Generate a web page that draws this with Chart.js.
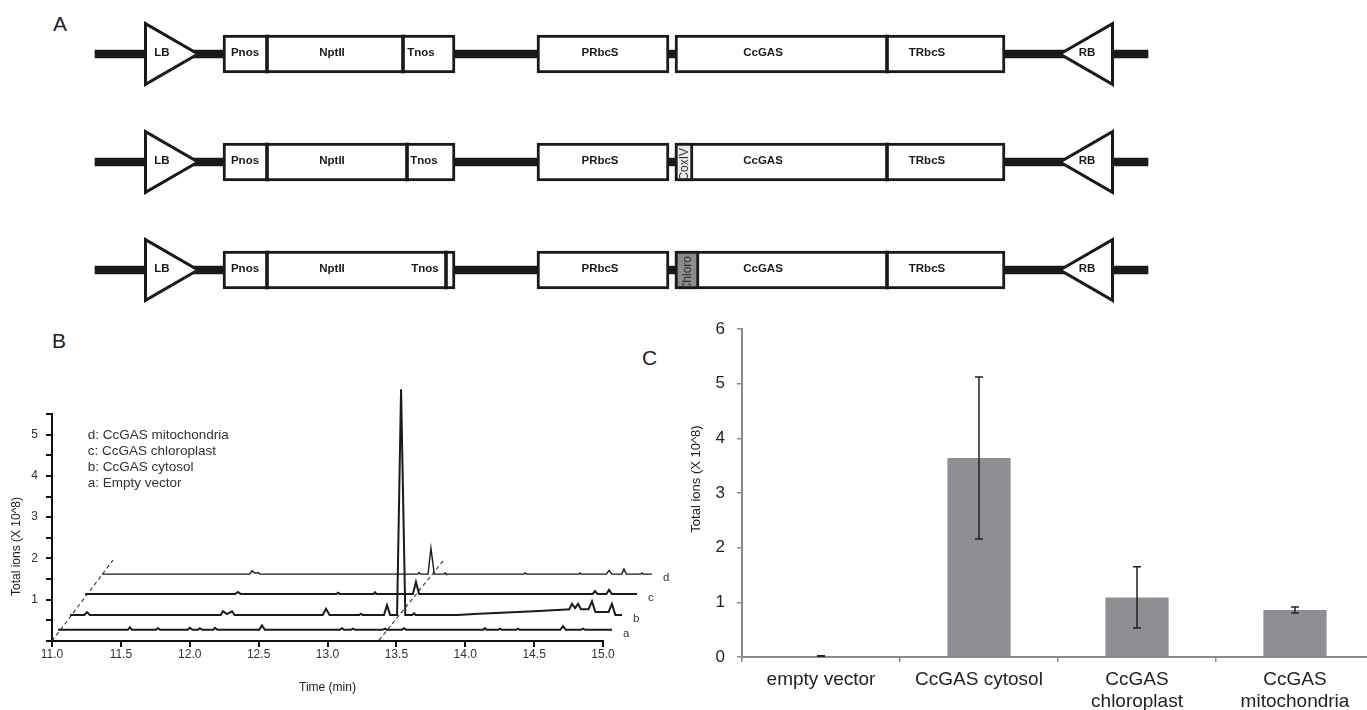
<!DOCTYPE html>
<html lang="en">
<head>
<meta charset="UTF-8">
<title>CcGAS constructs, chromatograms and total ions</title>
<script src="https://cdn.jsdelivr.net/npm/chart.js"></script>
<style>
    html, body { margin: 0; padding: 0; background: #fff; }
    body { width: 1367px; height: 710px; overflow: hidden; position: relative; font-family: "Liberation Sans", Arial, sans-serif; }
    canvas { position: absolute; }
    .panel { position: absolute; font-size: 21px; line-height: 1; color: #222; }
</style>
</head>
<body>
<div class="panel" style="left:53px;top:13px">A</div>
<div class="panel" style="left:52px;top:330px">B</div>
<div class="panel" style="left:642px;top:347px">C</div>

<canvas id="chart-a" width="1367" height="324" style="left:0;top:0"></canvas>
<canvas id="chart-b" width="680" height="340" style="left:0;top:370px"></canvas>
<canvas id="chart-c" width="740" height="410" style="left:640px;top:300px"></canvas>

<script>
// ---- Panel A: T-DNA constructs (map units along the construct) ----
const constructRows = ['cytosol', 'mitochondria', 'chloroplast'];
const backboneSpan = [0, 105.3];
const borderAt = [6.8, 100.0];                 // LB, RB
const cassetteSpan = [12.8, 36.0];             // Pnos - NptII - Tnos
const promoterSpan = [44.2, 57.4];             // PRbcS
const geneSpan = [58.0, 91.0];                 // CcGAS - TRbcS
const dividerAt = [[17.2, 30.8, 79.2], [17.2, 31.2, 79.2], [17.2, 35.1, 79.2]];
const signalSpans = [null, [58.0, 59.8], [58.0, 60.4]];
const signalNames = ['', 'CoxIV', 'Chloro'];
const signalColors = ['#ffffff', '#ececec', '#8c8c8e'];
const partNames = ['LB', 'Pnos', 'NptII', 'Tnos', 'PRbcS', 'CcGAS', 'TRbcS', 'RB'];
const partLabelAt = [
    [6.7, 15.0, 23.7, 32.6, 50.5, 66.8, 83.2, 99.2],
    [6.7, 15.0, 23.7, 32.9, 50.5, 66.8, 83.2, 99.2],
    [6.7, 15.0, 23.7, 33.0, 50.5, 66.8, 83.2, 99.2]
];

// ---- Panel B: chromatograms, [time on axis, total ions x10^8] ----
const traceA = [[11.044,0.27],[11.55,0.27],[11.566,0.33],[11.58,0.27],[11.755,0.27],[11.77,0.31],[11.785,0.27],
    [11.985,0.27],[12.0,0.32],[12.02,0.27],[12.06,0.27],[12.074,0.31],[12.09,0.27],[12.17,0.27],[12.183,0.32],[12.2,0.27],
    [12.505,0.27],[12.524,0.38],[12.545,0.27],[13.09,0.27],[13.105,0.31],[13.12,0.27],[13.17,0.27],[13.185,0.30],[13.2,0.27],
    [13.40,0.27],[13.417,0.30],[13.43,0.27],[13.54,0.27],[13.555,0.31],[13.57,0.27],[14.13,0.27],[14.143,0.31],[14.155,0.27],
    [14.24,0.27],[14.252,0.30],[14.265,0.27],[14.37,0.27],[14.383,0.30],[14.395,0.27],[14.69,0.27],[14.71,0.36],[14.73,0.27],
    [14.84,0.27],[14.855,0.30],[14.87,0.27],[15.065,0.27]];
const traceB = [[11.131,0.63],[11.235,0.63],[11.254,0.70],[11.275,0.63],[12.225,0.63],[12.241,0.72],[12.27,0.65],[12.307,0.72],
    [12.325,0.63],[12.965,0.63],[12.989,0.78],[13.015,0.63],[13.23,0.63],[13.243,0.66],[13.255,0.63],[13.41,0.63],[13.432,0.87],
    [13.455,0.63],[13.505,0.63],[13.534,6.10],[13.565,0.63],[13.615,0.63],[13.628,0.67],[13.64,0.63],[13.94,0.63],[14.1,0.66],
    [14.3,0.69],[14.5,0.72],[14.7,0.76],[14.755,0.77],[14.775,0.90],[14.797,0.80],[14.819,0.90],[14.84,0.77],[14.895,0.77],
    [14.92,0.96],[14.945,0.70],[15.04,0.70],[15.065,0.90],[15.09,0.63],[15.138,0.63]];
const traceC = [[11.24,1.14],[12.33,1.14],[12.35,1.19],[12.37,1.14],[13.065,1.14],[13.076,1.17],[13.09,1.14],[13.335,1.14],
    [13.345,1.18],[13.355,1.14],[13.62,1.14],[13.642,1.43],[13.665,1.14],[14.925,1.14],[14.942,1.21],[14.96,1.14],
    [15.025,1.14],[15.044,1.24],[15.065,1.14],[15.247,1.14]];
const traceD = [[11.363,1.62],[12.435,1.62],[12.452,1.70],[12.475,1.64],[12.495,1.66],[12.51,1.62],[13.655,1.62],[13.664,1.66],
    [13.675,1.62],[13.73,1.62],[13.751,2.25],[13.775,1.62],[13.845,1.62],[13.853,1.65],[13.86,1.62],[14.425,1.62],[14.434,1.65],
    [14.445,1.62],[14.825,1.62],[14.833,1.65],[14.84,1.62],[15.025,1.62],[15.044,1.71],[15.065,1.62],[15.135,1.62],[15.152,1.74],
    [15.17,1.62],[15.275,1.62],[15.283,1.65],[15.29,1.62],[15.356,1.62]];
const traceLetters = ['a', 'b', 'c', 'd'];
const sampleNames = ['d: CcGAS mitochondria', 'c: CcGAS chloroplast', 'b: CcGAS cytosol', 'a: Empty vector'];
const guideLines = [[[11.0, 0.0], [11.443, 1.96]], [[13.374, 0.02], [13.853, 2.0]]];
const timeTicks = [11.0, 15.0, 0.5];     // min, max, step
const ionTicksB = [0, 5.5, 0.5];

// ---- Panel C: total ions (x10^8), mean and error ----
const groups = ['empty vector', 'CcGAS cytosol', ['CcGAS', 'chloroplast'], ['CcGAS', 'mitochondria']];
const meanIons = [0.02, 3.64, 1.09, 0.86];
const errIons = [0.005, 1.48, 0.56, 0.055];
const ionTicksC = [0, 6, 1];

Chart.defaults.font.family = '"Liberation Sans", Arial, sans-serif';
Chart.defaults.color = '#222';

// Draws the part names and the rotated signal peptide names
const constructLabels = {
    id: 'constructLabels',
    afterDatasetsDraw(chart) {
        const { ctx, scales: { x, y } } = chart;
        ctx.save();
        constructRows.forEach((row, i) => {
            const cy = y.getPixelForValue(i);
            ctx.font = 'bold 11.5px "Liberation Sans", Arial, sans-serif';
            ctx.fillStyle = '#1a1a1a';
            ctx.textAlign = 'center';
            ctx.textBaseline = 'middle';
            partNames.forEach((name, k) => ctx.fillText(name, x.getPixelForValue(partLabelAt[i][k]), cy - 1));
            const span = signalSpans[i];
            if (span) {
                const x0 = x.getPixelForValue(span[0]) + 3;
                const x1 = x.getPixelForValue(span[1]) - 3;
                ctx.save();
                ctx.beginPath();
                ctx.rect(x0, cy - 16, x1 - x0, 32);
                ctx.clip();
                ctx.translate((x0 + x1) / 2, cy);
                ctx.rotate(-Math.PI / 2);
                ctx.font = '12px "Liberation Sans", Arial, sans-serif';
                ctx.fillStyle = '#333';
                ctx.textAlign = 'right';
                ctx.fillText(signalNames[i], 14, 1);
                ctx.restore();
            }
        });
        ctx.restore();
    }
};

function floating(span) {
    return constructRows.map(() => span);
}

// Function to create the construct map (panel A)
function createConstructChart() {
    const box = { type: 'bar', backgroundColor: '#fff', borderColor: '#1a1a1a', borderWidth: 3,
                  borderSkipped: false, barThickness: 38, grouped: false, order: 4 };
    const datasets = [
        { type: 'bar', data: floating(backboneSpan), backgroundColor: '#1a1a1a', barThickness: 8, grouped: false, order: 5 },
        { ...box, data: floating(cassetteSpan) },
        { ...box, data: floating(promoterSpan) },
        { ...box, data: floating(geneSpan) },
        { ...box, data: signalSpans, backgroundColor: signalColors, order: 3 }
    ];
    [0, 1, 2].forEach(j => {
        datasets.push({ type: 'bar', data: dividerAt.map(r => [r[j] - 0.15, r[j] + 0.15]),
                        backgroundColor: '#1a1a1a', barThickness: 38, grouped: false, order: 2 });
    });
    [[borderAt[0], 90], [borderAt[1], 270]].forEach(([pos, rot]) => {
        datasets.push({ type: 'line', showLine: false, data: constructRows.map(r => ({ x: pos, y: r })),
                        pointStyle: 'triangle', pointRotation: rot, pointRadius: 35, pointBorderWidth: 3,
                        pointBackgroundColor: '#fff', pointBorderColor: '#1a1a1a', order: 1, clip: false });
    });
    new Chart(document.getElementById('chart-a'), {
        type: 'bar',
        data: { labels: constructRows, datasets: datasets },
        options: {
            indexAxis: 'y', responsive: false, animation: false, events: [],
            layout: { padding: 0, autoPadding: false },
            plugins: { legend: { display: false }, tooltip: { enabled: false } },
            scales: {
                x: { type: 'linear', min: -9.5, max: 127.2, display: false },
                y: { type: 'category', display: false, offset: true }
            }
        },
        plugins: [constructLabels]
    });
}

// Sample list, trace letters and the rotated y title of panel B
const chromLabels = {
    id: 'chromLabels',
    afterDatasetsDraw(chart) {
        const { ctx, chartArea, scales: { x, y } } = chart;
        ctx.save();
        ctx.fillStyle = '#333';
        ctx.textBaseline = 'middle';
        ctx.font = '13.5px "Liberation Sans", Arial, sans-serif';
        ctx.textAlign = 'left';
        sampleNames.forEach((s, i) => ctx.fillText(s, x.getPixelForValue(11.26), y.getPixelForValue(4.99) + i * 16));
        ctx.font = '11.5px "Liberation Sans", Arial, sans-serif';
        [traceA, traceB, traceC, traceD].forEach((t, i) => {
            const last = t[t.length - 1];
            ctx.fillText(traceLetters[i], x.getPixelForValue(last[0]) + 11, y.getPixelForValue(last[1]) + 4);
        });
        ctx.translate(17, (chartArea.top + chartArea.bottom) / 2 + 19);
        ctx.rotate(-Math.PI / 2);
        ctx.textAlign = 'center';
        ctx.font = '12px "Liberation Sans", Arial, sans-serif';
        ctx.fillStyle = '#222';
        ctx.fillText('Total ions (X 10^8)', 0, 0);
        ctx.restore();
    }
};

// Function to create the chromatogram overlay (panel B)
function createChromatogramChart() {
    const toXY = t => t.map(p => ({ x: p[0], y: p[1] }));
    const traces = [traceA, traceB, traceC, traceD].map((t, i) => ({
        label: traceLetters[i], data: toXY(t), showLine: true, borderColor: '#1a1a1a',
        borderWidth: i === 3 ? 1.4 : 2, pointRadius: 0, clip: false
    }));
    const guides = guideLines.map(g => ({
        data: toXY(g), showLine: true, borderColor: '#333', borderWidth: 1.1,
        borderDash: [4, 3], pointRadius: 0, clip: false
    }));
    const axisGrid = { drawOnChartArea: false, tickLength: 6, color: '#111', lineWidth: 2 };
    new Chart(document.getElementById('chart-b'), {
        type: 'scatter',
        data: { datasets: traces.concat(guides) },
        options: {
            responsive: false, animation: false, events: [],
            layout: { padding: { top: 44, right: 77, left: 0, bottom: 0 } },
            plugins: { legend: { display: false }, tooltip: { enabled: false } },
            scales: {
                x: {
                    type: 'linear',
                    // range set here (not via min/max) so the traces can run past 15.0
                    afterDataLimits: s => { s.min = timeTicks[0]; s.max = timeTicks[1]; },
                    afterFit: s => { s.height = 69; },
                    ticks: { stepSize: timeTicks[2], callback: v => v.toFixed(1), maxRotation: 0, padding: 0,
                             color: '#333', font: { size: 12 } },
                    grid: axisGrid,
                    border: { color: '#111', width: 2 },
                    title: { display: true, text: 'Time (min)', color: '#222', font: { size: 12 },
                             padding: { top: 0, bottom: 15 } }
                },
                y: {
                    min: ionTicksB[0], max: ionTicksB[1],
                    afterFit: s => { s.width = 52; },
                    ticks: { stepSize: ionTicksB[2], padding: 8, color: '#333', font: { size: 12 },
                             callback: v => (Number.isInteger(v) && v > 0) ? v : '' },
                    grid: axisGrid,
                    border: { color: '#111', width: 2 }
                }
            }
        },
        plugins: [chromLabels]
    });
}

// Error bars and y title for panel C
const errorBars = {
    id: 'errorBars',
    afterDatasetsDraw(chart) {
        const { ctx, chartArea, scales: { y } } = chart;
        const bars = chart.getDatasetMeta(0).data;
        ctx.save();
        ctx.strokeStyle = '#222';
        ctx.lineWidth = 1.5;
        bars.forEach((bar, i) => {
            const top = y.getPixelForValue(meanIons[i] + errIons[i]);
            const bottom = y.getPixelForValue(meanIons[i] - errIons[i]);
            ctx.beginPath();
            ctx.moveTo(bar.x, top); ctx.lineTo(bar.x, bottom);
            ctx.moveTo(bar.x - 4, top); ctx.lineTo(bar.x + 4, top);
            ctx.moveTo(bar.x - 4, bottom); ctx.lineTo(bar.x + 4, bottom);
            ctx.stroke();
        });
        ctx.translate(chartArea.left - 46, (chartArea.top + chartArea.bottom) / 2 - 14);
        ctx.rotate(-Math.PI / 2);
        ctx.fillStyle = '#222';
        ctx.textAlign = 'center';
        ctx.textBaseline = 'middle';
        ctx.font = '13px "Liberation Sans", Arial, sans-serif';
        ctx.fillText('Total ions (X 10^8)', 0, 0);
        ctx.restore();
    }
};

// Function to create the total ions bar chart (panel C)
function createTotalIonsChart() {
    const axisGrid = { drawOnChartArea: false, tickLength: 5, color: '#8c8c8c', lineWidth: 1.5 };
    new Chart(document.getElementById('chart-c'), {
        type: 'bar',
        data: {
            labels: groups,
            datasets: [{ data: meanIons, backgroundColor: '#8e8f93', barPercentage: 0.4, categoryPercentage: 1 }]
        },
        options: {
            responsive: false, animation: false, events: [],
            layout: { padding: { top: 29, right: 6, left: 0, bottom: 0 } },
            plugins: { legend: { display: false }, tooltip: { enabled: false } },
            scales: {
                x: {
                    afterFit: s => { s.height = 53; },
                    ticks: { color: '#222', font: { size: 19, lineHeight: 1.15 }, padding: 7, maxRotation: 0, autoSkip: false },
                    grid: { ...axisGrid, offset: true },
                    border: { color: '#8c8c8c', width: 2 }
                },
                y: {
                    min: ionTicksC[0], max: ionTicksC[1],
                    afterFit: s => { s.width = 102; },
                    ticks: { stepSize: ionTicksC[2], color: '#222', font: { size: 17 }, padding: 12 },
                    grid: axisGrid,
                    border: { color: '#8c8c8c', width: 2 }
                }
            }
        },
        plugins: [errorBars]
    });
}

createConstructChart();
createChromatogramChart();
createTotalIonsChart();
</script>
</body>
</html>
